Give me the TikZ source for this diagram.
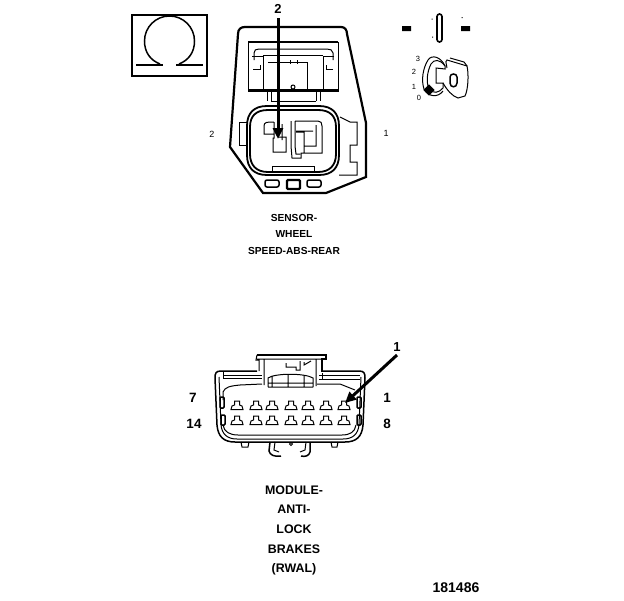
\documentclass[tikz,border=0pt]{standalone}
\usepackage{fontspec}
\setmainfont{Liberation Sans}
\usetikzlibrary{arrows.meta}
\tikzset{
 thin line/.style={line width=1pt,black},
 mid line/.style={line width=1.5pt,black},
 heavy line/.style={line width=2.2pt,black},
 small label/.style={font=\fontsize{9}{10}\selectfont,inner sep=0pt},
 pin label/.style={font=\fontsize{13.5}{14}\selectfont\bfseries,inner sep=0pt},
 tiny label/.style={font=\fontsize{7.5}{8}\selectfont,inner sep=0pt},
 caption a/.style={font=\fontsize{10.2}{11}\selectfont\bfseries,inner sep=0pt},
 caption b/.style={font=\fontsize{12.4}{13}\selectfont\bfseries,inner sep=0pt},
 callout/.style={line width=3pt,black,-{Triangle[length=11pt,width=10pt]}},
}
\newcommand{\pinshape}[2]{%
 \draw[thin line] ({#1-6},{#2+4.5}) -- ({#1-5},{#2+1}) -- ({#1-2.5},{#2}) -- ({#1-2.5},{#2-4}) -- ({#1+2.5},{#2-4}) -- ({#1+2.5},{#2}) -- ({#1+5},{#2+1}) -- ({#1+6},{#2+4.5}) -- cycle;}
\begin{document}
\begin{tikzpicture}[x=1pt,y=-1pt]
\useasboundingbox[fill=white] (0,0) rectangle (624,600);
% Omega box
\draw[heavy line] (132,15) rectangle (207,76);
\draw[mid line] (160,64) .. controls (150,60) and (144.5,52) .. (144.5,41) arc[start angle=180,end angle=360,radius=25] .. controls (194.5,52) and (189,60) .. (179,64);
\draw[heavy line] (136,65) -- (163,65) (176,65) -- (203,65);
% Sensor outer
\draw[heavy line] (238,34) .. controls (238,29) and (241,27) .. (245,27) -- (341,27) .. controls (345,27) and (347,30) .. (347,34) -- (366,123) -- (366,177) -- (326,193) -- (263,193) -- (230,147) -- cycle;
% Upper window
\draw[heavy line] (248,42) -- (338,42);
\draw[thin line] (248,42) -- (248,91) -- (338,91) -- (338,42);
\draw[mid line] (248,90) -- (338,90);
\draw[thin line] (254,60) -- (254,53) .. controls (254,50) and (256,49) .. (259,49) -- (327,49) .. controls (330,49) and (333,50) .. (333,53) -- (333,60);
\draw[thin line] (253,69) -- (260,69) -- (260,65) (252,56) -- (263,56) -- (263,90) (333,69) -- (326,69) -- (326,65) (334,56) -- (323,56) -- (323,90);
\draw[thin line] (263,55) -- (323,55) (268,62) -- (307,62) (307,62) -- (307,90) (290,60) -- (290,64) (297,60) -- (297,64);
\draw[thin line] (293,87) circle[radius=2];
% Webs between window and socket
\draw[thin line] (267,91) -- (267,101) (271,91) -- (271,101) (316,91) -- (316,101) (320,91) -- (320,101) (271,101) -- (316,101);
% Socket
\draw[line width=1.8pt] (267,106) -- (319,106) .. controls (332,106) and (339,113) .. (339,126) -- (339,155) .. controls (339,168) and (332,175) .. (319,175) -- (267,175) .. controls (254,175) and (247,168) .. (247,155) -- (247,126) .. controls (247,113) and (254,106) .. (267,106) -- cycle;
\draw[line width=1.8pt] (268,110) -- (318,110) .. controls (330,110) and (336,116) .. (336,127) -- (336,154) .. controls (336,165) and (330,172) .. (318,172) -- (268,172) .. controls (256,172) and (250,165) .. (250,154) -- (250,127) .. controls (250,116) and (256,110) .. (268,110) -- cycle;
\draw[thin line] (272,172) -- (272,166) -- (314,166) -- (314,172);
% Side ears
\draw[thin line] (247,122) -- (239,122) -- (239,145) -- (247,145);
\draw[thin line] (340,117) -- (350,122) -- (357,122) -- (357,145) -- (350,145) -- (350,162) -- (357,162) -- (357,175) -- (339,175);
% Terminals
\draw[thin line] (274,134) -- (264,134) -- (264,126) .. controls (264,122) and (267,122) .. (274,122) (274,122) -- (274,138) -- (273,138) -- (273,152) -- (286,152) -- (286,137) -- (278,137);
\draw[thin line] (282,124) -- (282,140) (291,121) -- (291,146) -- (292,158) -- (301,158) -- (301,153) -- (322,153) -- (322,145) (295,121) -- (295,146) -- (296,154) -- (300,154) (295,121) -- (318,121) .. controls (321,121) and (322,123) .. (322,126) -- (322,145) (296,132) -- (304,132) -- (304,153) (296,131) -- (313,131) (316,125) -- (316,146) -- (304,146);
% Bottom windows
\draw[mid line,rounded corners=2pt] (265,180) rectangle (279,187);
\draw[heavy line,rounded corners=1pt] (287,180) rectangle (300,189);
\draw[mid line,rounded corners=2pt] (307,180) rectangle (321,187);
% Sensor labels
\node[small label] (lblTwo) at (278,9) {\fontsize{13}{13}\selectfont\bfseries 2};
\coordinate (tipTwo) at (278,139);
\draw[callout] (278,18) -- (tipTwo);
\node[small label] (sideTwo) at (212,134) {2};
\node[small label] (sideOne) at (386,133) {1};
\node[caption a] (capA) at (294,218) {SENSOR-};
\node[caption a] (capB) at (294,234) {WHEEL};
\node[caption a] (capC) at (294,251) {SPEED-ABS-REAR};
% Ignition switch
\fill (402,26) rectangle (411,31) (461,26) rectangle (470,31);
\draw[line width=1.6pt,rounded corners=2.5pt] (437,14) rectangle (442,42);
\fill (431.5,18.5) rectangle (432.5,19.5) (432,36.5) rectangle (433,37.5) (461.5,17) rectangle (462.5,18);
\node[tiny label] (keyThree) at (418,59) {3};
\node[tiny label] (keyTwo) at (414,72) {2};
\node[tiny label] (keyOne) at (414,87) {1};
\node[tiny label] (keyZero) at (419,98) {0};
\draw[thin line] (445,66) .. controls (441,57) and (432,54) .. (428,60) .. controls (423,68) and (421,80) .. (424,89) .. controls (428,97) and (438,98) .. (443,91);
\draw[thin line] (445,66) .. controls (440,59) and (434,59) .. (431,64) .. controls (427,72) and (426,82) .. (429,89) .. controls (433,94) and (439,93) .. (443,88) -- (443,83) -- (436,83) -- (436,68) -- (445,69) -- cycle;
\draw[thin line] (443,83) .. controls (447,90) and (452,96) .. (458,98) -- (465,96) .. controls (468,90) and (469,75) .. (467,66) -- (447,60) .. controls (445,60) and (446,62) .. (447,68);
\draw[thin line] (450,58) -- (464,62) -- (467,66);
\draw[mid line] (450,77) .. controls (450,73) and (457,73) .. (457,77) -- (457,83) .. controls (457,88) and (450,88) .. (450,83) -- cycle;
\fill[rotate around={45:(429,90)}] (425,86) rectangle (433,94);
% ABS module connector
\draw[mid line] (257,371) -- (221,371) .. controls (216,371) and (215,373) .. (215,378) -- (217,425) .. controls (218,437) and (224,442) .. (235,442) -- (345,442) .. controls (356,442) and (362,437) .. (363,425) -- (365,378) .. controls (365,373) and (364,371) .. (359,371) -- (321,371);
\draw[thin line] (219,377) -- (221,425) .. controls (222,434) and (227,439) .. (237,439) -- (343,439) .. controls (353,439) and (358,434) .. (359,425) -- (361,377);
\draw[thin line] (223,400) -- (223,392) .. controls (225,387) and (230,386) .. (240,385) (223,425) .. controls (224,432) and (230,435) .. (238,435) -- (342,435) .. controls (350,435) and (355,432) .. (356,425);
\draw[thin line] (240,385) -- (262,384) (317,384) -- (340,384) -- (355,390);
\draw[thin line] (223,372) -- (223,378) -- (262,378) (223,375) -- (262,375) (319,375) -- (360,375) (319,379) -- (360,379) (322,373) -- (322,379);
% top latch
\draw[mid line] (257,355) -- (326,355) -- (326,359) -- (322,359) -- (322,372);
\draw[thin line] (257,355) -- (256,360) -- (259,360) -- (259,371) (257,359) -- (322,359) (264,359) -- (264,385) (316,359) -- (316,386);
\draw[thin line] (286,363) -- (286,367) -- (296,367) -- (296,370) -- (300,370) -- (300,361) (304,362) -- (304,365) -- (311,361);
\draw[thin line] (268,387) -- (268,378) .. controls (275,373) and (305,373) .. (313,378) -- (313,387) (272,376) -- (272,387) (288,375) -- (288,387) (304,375) -- (304,387) (268,383) -- (313,383) (268,387) -- (313,387);
% cavities at ends
\draw[mid line,rounded corners=1pt] (220,397) rectangle (224,408);
\draw[mid line,rounded corners=1pt] (357,397) rectangle (361,408);
\draw[mid line,rounded corners=1pt] (221,415) rectangle (225,425);
\draw[mid line,rounded corners=1pt] (357,415) rectangle (361,425);
% pins
\foreach \px in {237,256,272,291,308,326,344}{\pinshape{\px}{405}\pinshape{\px}{420}}
% bottom tabs
\draw[thin line] (241,442) -- (242,447) -- (248,447) -- (249,442) (331,442) -- (332,447) -- (337,447) -- (338,442);
\draw[mid line] (270,442) -- (269,451) .. controls (270,455) and (274,457) .. (281,456);
\draw[thin line] (275,442) -- (274,450) -- (279,452);
\draw[mid line] (310,442) -- (310,452) .. controls (309,456) and (305,457) .. (301,456);
\draw[thin line] (306,442) -- (305,450) -- (300,452);
\draw[thin line] (291,444) circle[radius=1.5];
% Module labels
\node[small label] (lblOne) at (397,347) {\fontsize{13}{13}\selectfont\bfseries 1};
\coordinate (tipOne) at (345,403);
\coordinate (tailOne) at (397,355);
\draw[callout] (tailOne) -- (tipOne);
\node[pin label] (pinSeven) at (193,398) {7};
\node[pin label] (pinOne) at (387,398) {1};
\node[pin label] (pinFourteen) at (194,424) {14};
\node[pin label] (pinEight) at (387,424) {8};
\node[caption b] (modA) at (294,490) {MODULE-};
\node[caption b] (modB) at (294,509) {ANTI-};
\node[caption b] (modC) at (294,529) {LOCK};
\node[caption b] (modD) at (294,549) {BRAKES};
\node[caption b] (modE) at (294,569) {(RWAL)};
\node[font=\fontsize{14}{14}\selectfont\bfseries,inner sep=0pt] (figId) at (456,588) {181486};
\end{tikzpicture}
\end{document}
